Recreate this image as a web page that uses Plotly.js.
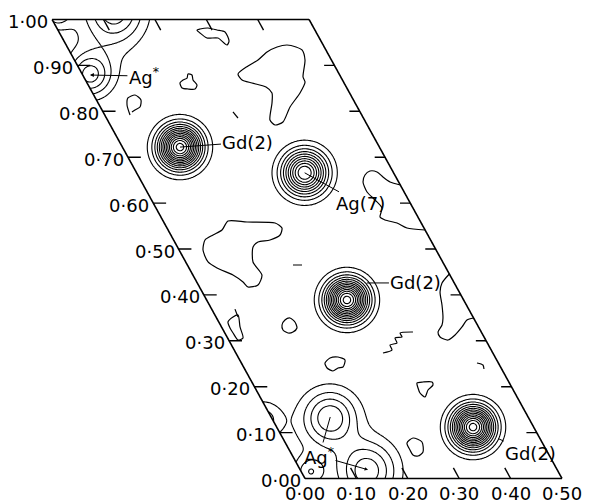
<!DOCTYPE html>
<html><head><meta charset="utf-8">
<script src="https://cdn.plot.ly/plotly-3.0.1.min.js"></script>
<style>html,body{margin:0;padding:0;background:#fff}</style>
</head><body>
<div id="chart" style="width:596px;height:503px"></div>
<script>
// ---------- axis ticks (fractional coordinates) ----------
const xTickVals   = [0, 0.1, 0.2, 0.3, 0.4, 0.5];
const xTickLabels = ['0·00','0·10','0·20','0·30','0·40','0·50'];
const yTickVals   = [0, 0.1, 0.2, 0.3, 0.4, 0.5, 0.6, 0.7, 0.8, 0.9, 1.0];
const yTickLabels = ['0·00','0·10','0·20','0·30','0·40','0·50','0·60','0·70','0·80','0·90','1·00'];
const innerTickX  = [0.1, 0.2, 0.3, 0.4];
const innerTickY  = [0.1, 0.2, 0.3, 0.4, 0.5, 0.6, 0.7, 0.8, 0.9];

// ---------- density peaks (fractional x, y; height in contour units; width) ----------
const peakLabel  = ['Gd(2)','Ag(7)','Gd(2)','Gd(2)','Ag*','Ag*','Ag*','','','',''];
const peakA      = [0.112, 0.327, 0.273, 0.382, 0.014, 0.115, 0.132, 0.017, 0.980, 0.090, 0.076];
const peakB      = [0.722, 0.666, 0.389, 0.112, 0.879, 0.134, 0.019, 0.014, 0.127, 0.100, 0.944];
const peakHeight = [14.5, 11, 14.5, 14.5, 4.2, 4.2, 4.2, 2.6, 2.6, 0.8, 0.8];
const peakWidth  = [0.0275, 0.029, 0.0275, 0.0275, 0.029, 0.035, 0.039, 0.020, 0.025, 0.060, 0.050];

// ---------- lowest-level noise contours (fractional x, y) ----------
const blobTopA = [0.2706,0.2733,0.2815,0.3029,0.3128,0.3212,0.3230,0.3095,0.2942,0.2776];
const blobTopB = [0.9771,0.9706,0.9597,0.9597,0.9444,0.9532,0.9728,0.9771,0.9815,0.9793];
const blobNEA = [0.3033,0.3313,0.3572,0.3833,0.4082,0.4296,0.4451,0.4535,0.4486,0.4265,0.4251,0.4035,0.3691,0.3393,0.3206,0.3161,0.3383,0.3490,0.3438,0.3208,0.3047];
const blobNEB = [0.8813,0.8987,0.9118,0.9292,0.9401,0.9444,0.9401,0.9336,0.9118,0.8747,0.8638,0.8399,0.8094,0.7767,0.7702,0.7810,0.8181,0.8399,0.8529,0.8617,0.8682];
const blobSmallA = [0.1794,0.1807,0.1899,0.1998,0.2060,0.2126,0.2093,0.2117,0.2035,0.1899];
const blobSmallB = [0.8508,0.8617,0.8682,0.8725,0.8813,0.8791,0.8682,0.8573,0.8486,0.8486];
const hookA = [0.0492,0.0541,0.0634,0.0804,0.0866,0.0772,0.0642,0.0562];
const hookB = [0.7919,0.8137,0.8290,0.8355,0.8246,0.8094,0.8028,0.7985];
const stubA = [0.2527,0.2560];
const stubB = [0.7985,0.7854];
const blobMidA = [0.1263,0.1621,0.2156,0.2237,0.2125,0.1876,0.1621,0.1471,0.1309,0.1344,0.1160,0.0944,0.0901,0.0780,0.0545,0.0434,0.0465,0.0611,0.0821,0.1049];
const blobMidB = [0.5610,0.5588,0.5566,0.5458,0.5305,0.5196,0.5153,0.5044,0.4717,0.4434,0.4216,0.4172,0.4281,0.4434,0.4586,0.4717,0.4978,0.5196,0.5305,0.5414];
const dashA = [0.2054,0.2230];
const dashB = [0.4651,0.4651];
const edgeUpperA = [0.5000,0.4833,0.4749,0.4687,0.4560,0.4420,0.4307,0.4278,0.4348,0.4397,0.4263,0.4327,0.4529,0.4669,0.5000];
const edgeUpperB = [0.6394,0.6460,0.6569,0.6678,0.6699,0.6612,0.6460,0.6242,0.6068,0.5893,0.5697,0.5632,0.5566,0.5458,0.5414];
const edgeLeftA = [0.0179,0.0331,0.0449,0.0360,0.0300,0.0181,0.0160,0.0154];
const edgeLeftB = [0.3410,0.3519,0.3562,0.3301,0.3061,0.3017,0.3170,0.3279];
const edgeLeftStubA = [0.0453,0.0428];
const edgeLeftStubB = [0.3690,0.3519];
const blobCA = [0.1163,0.1198,0.1309,0.1428,0.1482,0.1457,0.1337,0.1230];
const blobCB = [0.3235,0.3344,0.3453,0.3497,0.3410,0.3279,0.3192,0.3170];
const edgeMidA = [0.5000,0.4761,0.4626,0.4525,0.4405,0.4311,0.4158,0.4144,0.4267,0.4457,0.4679,0.4850,0.5000];
const edgeMidB = [0.4455,0.4259,0.4063,0.3780,0.3497,0.3344,0.3192,0.3083,0.3017,0.3126,0.3301,0.3453,0.3497];
const zigzagA = [0.2862,0.3070,0.3084,0.3243,0.3257,0.3405,0.3409,0.3671];
const zigzagB = [0.2734,0.2800,0.2908,0.2952,0.3061,0.3083,0.3170,0.3192];
const blobDA = [0.1613,0.1626,0.1778,0.1944,0.2049,0.1934,0.1827,0.1696];
const blobDB = [0.2407,0.2516,0.2625,0.2647,0.2582,0.2429,0.2407,0.2342];
const blobEA = [0.3169,0.3202,0.3331,0.3506,0.3492,0.3342,0.3208,0.3154];
const blobEB = [0.1972,0.2081,0.2102,0.2102,0.2037,0.1928,0.1776,0.1863];
const blobFA = [0.2348,0.2364,0.2535,0.2667,0.2580,0.2440,0.2352];
const blobFB = [0.0621,0.0773,0.0882,0.0795,0.0577,0.0490,0.0512];
const hook2A = [0.4584,0.4679,0.4656];
const hook2B = [0.2516,0.2473,0.2386];

// ---------- cell geometry (projection of the b axis) and styling ----------
const SKEW = 0.492, RISE = 0.893;
function cart(a, b) { return [a - SKEW * b, RISE * b]; }
const FONT = 'DejaVu Sans, Verdana, sans-serif';
const INK = '#000';

// carpet grid
const STEP = 0.0025;
const gridA = [], gridB = [];
for (let i = 0; i <= Math.round(0.5 / STEP); i++) gridA.push(+(i * STEP).toFixed(4));
for (let j = 0; j <= Math.round(1 / STEP); j++) gridB.push(+(j * STEP).toFixed(4));
const gx = [], gy = [], gz = [];
for (const b of gridB) {
  const rx = [], ry = [], rz = [];
  for (const a of gridA) {
    const [x, y] = cart(a, b);
    rx.push(x); ry.push(y);
    let z = 0;
    for (let p = 0; p < peakA.length; p++) {
      const w2 = 2 * peakWidth[p] * peakWidth[p];
      for (let sa = -1; sa <= 1; sa++) for (let sb = -1; sb <= 1; sb++) {
        const da = a - (peakA[p] + sa), db = b - (peakB[p] + sb);
        const dx = da - SKEW * db, dy = RISE * db;
        const r2 = dx * dx + dy * dy;
        if (r2 < 0.06) z += peakHeight[p] * Math.exp(-r2 / w2);
      }
    }
    rz.push(z);
  }
  gx.push(rx); gy.push(ry); gz.push(rz);
}

const axisStyle = {
  showgrid: false, showticklabels: 'none', showline: false,
  startline: true, endline: true, color: INK,
  startlinecolor: INK, endlinecolor: INK, startlinewidth: 1.6, endlinewidth: 1.6,
  smoothing: 0, minorgridcount: 0
};

const traces = [
  { type: 'carpet', carpet: 'cell', a: gridA, b: gridB, x: gx, y: gy,
    aaxis: axisStyle, baxis: axisStyle, hoverinfo: 'skip' },
  { type: 'contourcarpet', carpet: 'cell', a: gridA, b: gridB, z: gz,
    autocontour: false, contours: { start: 1, end: 24, size: 1, coloring: 'lines', showlabels: false },
    colorscale: [[0, INK], [1, INK]], showscale: false,
    line: { color: INK, width: 1.1, smoothing: 1 }, hoverinfo: 'skip' }
];

function lineTrace(a, b, closed) {
  const aa = a.slice(), bb = b.slice();
  if (closed) { aa.push(a[0]); bb.push(b[0]); }
  return { type: 'scattercarpet', carpet: 'cell', a: aa, b: bb, mode: 'lines',
    line: { color: INK, width: 1.2, shape: 'spline', smoothing: 0.7 },
    hoverinfo: 'skip', showlegend: false };
}
[[blobTopA, blobTopB, true], [blobNEA, blobNEB, true], [blobSmallA, blobSmallB, true],
 [hookA, hookB, false], [stubA, stubB, false], [blobMidA, blobMidB, true], [dashA, dashB, false],
 [edgeUpperA, edgeUpperB, false], [edgeLeftA, edgeLeftB, true], [edgeLeftStubA, edgeLeftStubB, false],
 [blobCA, blobCB, true], [edgeMidA, edgeMidB, false], [zigzagA, zigzagB, false],
 [blobDA, blobDB, true], [blobEA, blobEB, true], [blobFA, blobFB, true], [hook2A, hook2B, false]
].forEach(([a, b, c]) => traces.push(lineTrace(a, b, c)));

// inner tick marks
const TICK_A = 0.025, TICK_B = 0.023;
function tick(a, b) {
  return { type: 'scattercarpet', carpet: 'cell', a: a, b: b, mode: 'lines',
    line: { color: INK, width: 1.4 }, hoverinfo: 'skip', showlegend: false };
}
innerTickY.forEach(v => { traces.push(tick([0, TICK_A], [v, v])); traces.push(tick([0.5 - TICK_A * 0.8, 0.5], [v, v])); });
innerTickX.forEach(v => { traces.push(tick([v, v], [0, TICK_B])); traces.push(tick([v, v], [1 - TICK_B, 1])); });

// tick labels
const annotations = [];
const labelFont = { family: FONT, size: 18, color: INK };
yTickVals.forEach((v, i) => {
  const [x, y] = cart(0, v);
  annotations.push({ x, y, xref: 'x', yref: 'y', text: yTickLabels[i], showarrow: false,
    xanchor: 'right', yanchor: 'middle', xshift: -3, yshift: -2, borderpad: 0, font: labelFont });
});
xTickVals.forEach((v, i) => {
  const [x, y] = cart(v, 0);
  annotations.push({ x, y, xref: 'x', yref: 'y', text: xTickLabels[i], showarrow: false,
    xanchor: 'center', yanchor: 'top', yshift: -3, borderpad: 0, font: labelFont });
});

// atom labels with leader lines
function peakAnn(i, opts) {
  const [x, y] = cart(peakA[i], peakB[i]);
  annotations.push(Object.assign({ x, y, xref: 'x', yref: 'y',
    text: peakLabel[i].replace('*', '<sup>*</sup>'), showarrow: true, arrowhead: 0,
    arrowwidth: 1, arrowcolor: INK, font: labelFont }, opts));
}
peakAnn(0, { ax: 68, ay: -5 });
peakAnn(1, { ax: 56, ay: 31 });
peakAnn(2, { ax: 49, ay: 0, xshift: 20, yshift: 17 });
peakAnn(3, { ax: 57, ay: 26, standoff: 28 });
peakAnn(4, { ax: 54, ay: 1, arrowhead: 2, arrowsize: 0.8 });
peakAnn(5, { ax: -11, ay: 39 });
peakAnn(6, { ax: -49, ay: -14, arrowhead: 2, arrowsize: 0.7,
  font: { family: FONT, size: 18, color: 'rgba(0,0,0,0)' } });

const layout = {
  width: 596, height: 503, margin: { l: 0, r: 0, t: 0, b: 0 },
  paper_bgcolor: '#fff', plot_bgcolor: '#fff', showlegend: false,
  xaxis: { visible: false, range: [-305 / 514, 291 / 514], fixedrange: true },
  yaxis: { visible: false, range: [-24.5 / 514, 478.5 / 514], fixedrange: true },
  annotations
};
Plotly.newPlot('chart', traces, layout, { staticPlot: true });
</script>
</body></html>
